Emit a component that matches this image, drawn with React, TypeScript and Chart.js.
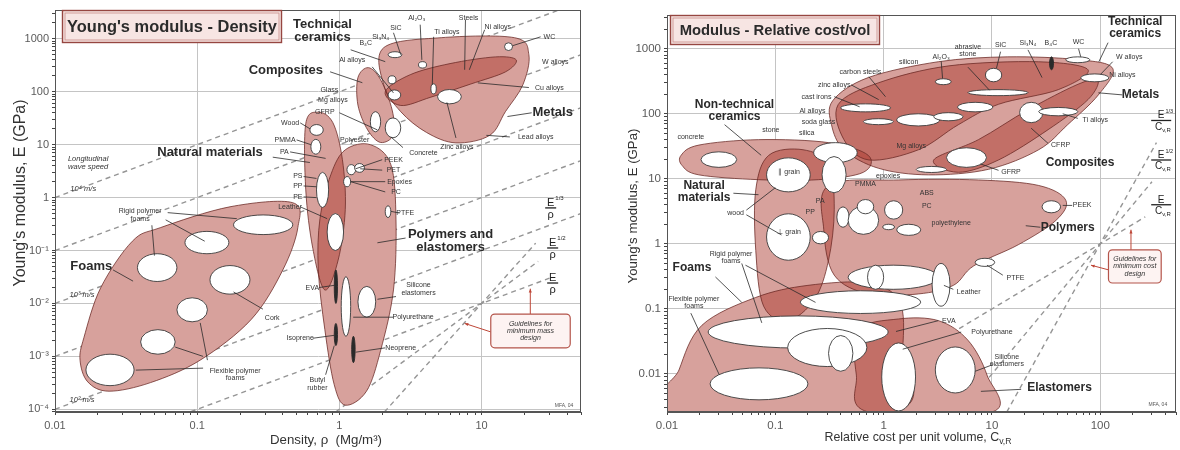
import React, { useEffect, useRef } from "react";
import { Chart, registerables } from "chart.js";

Chart.register(...registerables);

type XY = [number, number];
type Box = [number, number, number, number]; // xmin, xmax, ymin, ymax
type Seg = [number, number, number, number]; // x1, y1, x2, y2
type Lab = [string, number, number];
type Frac = [string, number, number];

const FONT = '"Liberation Sans", Arial, Helvetica, sans-serif';

/* ===================== LEFT CHART: Young's modulus - Density ===================== */
const leftTitle = "Young's modulus - Density";
const leftYTitle = "Young's modulus, E (GPa)";
const leftXTitle = "Density, ρ  (Mg/m³)";
const leftXRange: [number, number] = [0.01, 50];
const leftYRange: [number, number] = [8.9e-5, 3500];
const leftXTickValues = [0.01, 0.1, 1, 10];
const leftXTickLabels = ["0.01", "0.1", "1", "10"];
const leftYTickValues = [1e-4, 1e-3, 1e-2, 1e-1, 1, 10, 100, 1000];
const leftYTickLabels = ["10⁻⁴", "10⁻³", "10⁻²", "10⁻¹", "1", "10", "100", "1000"];

const leftFoams: XY[] = [[0.055, 0.27], [0.17, 0.67], [0.47, 0.8], [0.51, 0.27], [0.4, 0.043], [0.24, 0.005], [0.105, 0.00085], [0.047, 0.00032], [0.024, 0.00022], [0.017, 0.00033], [0.015, 0.00085], [0.016, 0.0023], [0.021, 0.02], [0.035, 0.15]];
const leftNatural: XY[] = [[0.58, 25], [0.71, 41], [0.9, 26], [1.05, 5.2], [1.1, 0.6], [0.98, 0.066], [0.79, 0.018], [0.65, 0.11], [0.58, 1.4]];
const leftPolymers: XY[] = [[1.1, 8], [1.65, 10], [2.3, 4.2], [2.5, 0.38], [2.4, 0.018], [1.95, 0.0013], [1.55, 0.00022], [1.1, 0.00012], [0.92, 0.00029], [0.79, 0.0032], [0.71, 0.045], [0.73, 0.4], [0.87, 2.7]];
const leftMetals: XY[] = [[2.05, 680], [5.2, 1050], [17, 1050], [21.5, 500], [19.5, 135], [14.7, 42], [11.4, 15], [6.6, 10.8], [4.1, 17], [2.7, 42], [2.05, 135]];
const leftTechCeramics: XY[] = [[2.1, 100], [3.15, 210], [6.0, 340], [12.5, 455], [17.5, 400], [14.7, 237], [8.4, 140], [4.4, 79], [2.7, 55]];
const leftComposites: XY[] = [[1.35, 185], [1.6, 285], [1.95, 168], [2.35, 45], [2.4, 15.5], [1.95, 11], [1.58, 19], [1.35, 56]];

const leftBubbles: Box[] = [
  [0.18, 0.47, 0.2, 0.47], [0.082, 0.167, 0.087, 0.23], [0.038, 0.072, 0.026, 0.087],
  [0.123, 0.235, 0.015, 0.052], [0.072, 0.118, 0.0045, 0.0128], [0.04, 0.07, 0.0011, 0.0032],
  [0.0165, 0.036, 0.00028, 0.0011],
  [0.62, 0.77, 15, 24], [0.63, 0.74, 6.6, 12.6], [0.69, 0.84, 0.65, 3.0], [0.82, 1.07, 0.1, 0.5],
  [1.35, 1.8, 0.0055, 0.021], [1.03, 1.2, 0.0024, 0.032], [1.13, 1.3, 2.7, 4.2], [1.28, 1.5, 3.0, 4.4],
  [1.07, 1.2, 1.6, 2.5], [2.1, 2.3, 0.42, 0.7],
  [4.9, 7.2, 59, 110], [14.5, 16.5, 600, 840], [2.2, 2.5, 141, 200], [3.6, 4.1, 280, 370],
  [2.2, 2.75, 440, 570], [4.4, 4.8, 91, 141], [2.2, 2.7, 70, 108], [1.65, 1.95, 17.5, 42], [2.1, 2.7, 13.5, 32],
];
const leftDarkMarks: Box[] = [[0.92, 0.97, 0.01, 0.043], [1.22, 1.29, 0.00076, 0.0024], [0.92, 0.97, 0.0016, 0.0042]];

const leftGuideLines: XY[][] = [
  [[0.01, 1], [35, 3500]],
  [[0.01, 0.1], [50, 500]],
  [[0.01, 0.01], [50, 50]],
  [[0.01, 0.001], [50, 5]],
  [[0.01, 0.0001], [50, 0.5]],
  [[0.09, 0.00009], [30, 0.03]],
  [[0.94, 0.000089], [25, 0.0625]],
  [[2.07, 0.0000887], [24, 0.138]],
];

const leftMainLabels: Lab[] = [
  ["Technical\nceramics", 0.76, 1400], ["Composites", 0.42, 250], ["Metals", 31.6, 40],
  ["Natural materials", 0.123, 7.0], ["Polymers and\nelastomers", 6.05, 0.152], ["Foams", 0.018, 0.05],
];
const leftSpeedLabels: Lab[] = [
  ["Longitudinal\nwave speed", 0.0171, 4.5], ["10⁴ m/s", 0.0158, 1.45], ["10³ m/s", 0.0155, 0.0145], ["10² m/s", 0.0155, 0.00015],
];
const leftSmallLabels: Lab[] = [
  ["Rigid polymer\nfoams", 0.0397, 0.47], ["Cork", 0.337, 0.0053], ["Flexible polymer\nfoams", 0.185, 0.00046],
  ["Wood", 0.45, 25.8], ["PMMA", 0.415, 12.3], ["PA", 0.41, 7.3], ["PS", 0.51, 2.57], ["PP", 0.51, 1.66], ["PE", 0.51, 1.03],
  ["Leather", 0.45, 0.67], ["PEEK", 2.4, 5.2], ["PET", 2.4, 3.3], ["Epoxies", 2.65, 2.0], ["PC", 2.5, 1.28],
  ["Polyester", 1.28, 12.3], ["PTFE", 2.9, 0.51], ["EVA", 0.645, 0.0196], ["Silicone\nelastomers", 3.6, 0.0188],
  ["Polyurethane", 3.3, 0.0056], ["Isoprene", 0.53, 0.0022], ["Neoprene", 2.7, 0.00144], ["Butyl\nrubber", 0.7, 0.0003],
  ["B₄C", 1.53, 840], ["Si₃N₄", 1.95, 1090], ["SiC", 2.5, 1610], ["Al₂O₃", 3.5, 2500], ["Ti alloys", 5.7, 1360],
  ["Steels", 8.1, 2500], ["Ni alloys", 13, 1690], ["WC", 30, 1090], ["W alloys", 33, 370], ["Cu alloys", 30, 118],
  ["Al alloys", 1.23, 400], ["Glass", 0.85, 108], ["Mg alloys", 0.9, 70], ["GFRP", 0.79, 42],
  ["Lead alloys", 24, 14], ["Zinc alloys", 6.7, 9], ["Concrete", 3.9, 7],
];
const leftLeaders: Seg[] = [
  [1.2, 620, 2.1, 370], [0.86, 238, 1.45, 148], [22.5, 40, 15.2, 34], [0.34, 5.8, 0.62, 4.6],
  [2.92, 0.172, 1.85, 0.14], [0.0256, 0.043, 0.0354, 0.0264],
  [0.048, 0.3, 0.05, 0.08], [0.06, 0.38, 0.113, 0.15], [0.062, 0.52, 0.19, 0.4],
  [0.29, 0.0078, 0.18, 0.0165],
  [0.11, 0.0006, 0.037, 0.00055], [0.118, 0.00085, 0.105, 0.0043], [0.11, 0.001, 0.07, 0.0015],
  [26, 1090, 16.5, 740], [21.5, 120, 9.4, 147], [6.6, 13.4, 5.7, 63], [4.6, 1090, 4.5, 135],
  [7.7, 2300, 7.6, 260], [10.5, 1480, 8.2, 260], [3.7, 1850, 3.8, 400], [2.4, 1300, 2.7, 500],
  [1.7, 295, 2.4, 95], [1.0, 40, 1.85, 19], [2.8, 8.8, 2.3, 14], [15.8, 14, 10.8, 15],
  [2.5, 0.0135, 1.85, 0.012], [2.4, 0.0055, 1.25, 0.0055], [2.1, 0.00145, 1.3, 0.0012],
  [0.8, 0.00045, 0.92, 0.0016], [0.72, 0.02, 0.92, 0.022], [0.65, 0.0022, 0.92, 0.0025],
  [2.0, 5.2, 1.3, 3.5], [2.0, 3.3, 1.4, 3.5], [2.1, 2.0, 1.2, 2.0], [2.1, 1.28, 1.2, 2.0],
  [0.56, 2.5, 0.69, 2.3], [0.56, 1.66, 0.69, 1.6], [0.56, 1.03, 0.69, 1.0],
  [0.53, 25.8, 0.62, 20], [0.5, 12.3, 0.63, 10], [0.45, 7.3, 0.8, 5.5], [2.65, 0.51, 2.3, 0.55], [0.53, 0.67, 0.82, 0.4],
];
const leftFractions: Frac[] = [["1/3", 30.6, 0.64], ["1/2", 31.6, 0.112], ["", 31.6, 0.0244]];
const leftGuideBox: Box = [11.6, 42, 0.00145, 0.0063];
const leftGuideText = "Guidelines for\nminimum mass\ndesign";
const leftGuideArrows: Seg[] = [[11.6, 0.0029, 7.6, 0.0042], [22, 0.0063, 22, 0.019]];
const leftTag: Lab = ["MFA, 04", 38, 0.00012];

/* ===================== RIGHT CHART: Modulus - Relative cost/vol ===================== */
const rightTitle = "Modulus - Relative cost/vol";
const rightYTitle = "Young's modulus, E (GPa)";
const rightXTitle = "Relative cost per unit volume, C";
const rightXTitleSub = "v,R";
const rightXRange: [number, number] = [0.01, 500];
const rightYRange: [number, number] = [0.0026, 3300];
const rightXTickValues = [0.01, 0.1, 1, 10, 100];
const rightXTickLabels = ["0.01", "0.1", "1", "10", "100"];
const rightYTickValues = [0.01, 0.1, 1, 10, 100, 1000];
const rightYTickLabels = ["0.01", "0.1", "1", "10", "100", "1000"];

const rightMetalsOuter: XY[] = [[0.34, 160], [0.72, 360], [3.2, 631], [14, 750], [62, 680], [130, 500], [96, 195], [50, 68], [27, 28], [9.3, 14], [2.6, 11.5], [0.9, 14.5], [0.43, 28], [0.33, 68]];
const rightMetals: XY[] = [[0.38, 138], [0.9, 300], [4, 545], [27, 630], [77, 475], [41, 235], [11.5, 140], [4.9, 68], [2.1, 28], [0.73, 19.5], [0.43, 40]];
const rightComposites: XY[] = [[2.9, 19.5], [7.5, 40], [21.5, 115], [61, 280], [95, 330], [77, 165], [33, 57], [11.5, 19.5], [4.9, 12.6]];
const rightNonTech: XY[] = [[0.0135, 23], [0.0197, 33], [0.07, 40], [0.31, 36], [0.72, 23], [0.65, 12.6], [0.25, 9.7], [0.07, 9.7], [0.0197, 11.5], [0.0138, 16]];
const rightNatural: XY[] = [[0.087, 23], [0.18, 28], [0.31, 16.5], [0.35, 3.4], [0.31, 0.56], [0.23, 0.14], [0.13, 0.066], [0.078, 0.11], [0.066, 0.79], [0.066, 6.8]];
const rightPolymers: XY[] = [[0.31, 7.9], [1.37, 9.6], [7.5, 9.6], [27, 7.9], [48, 4.7], [39, 2.3], [17.5, 0.97], [6.8, 0.46], [4.4, 0.23], [2.1, 0.17], [0.73, 0.17], [0.35, 0.33], [0.28, 1.65]];
const rightFoams: XY[] = [[0.0102, 0.0026], [0.0129, 0.0115], [0.021, 0.056], [0.066, 0.15], [0.2, 0.23], [0.72, 0.25], [1.4, 0.13], [1.5, 0.024], [1.25, 0.0026]];
const rightElastomers: XY[] = [[0.58, 0.047], [1.37, 0.07], [3.2, 0.066], [6.0, 0.033], [9, 0.0096], [10, 0.0026], [0.72, 0.0026], [0.56, 0.0096]];

const rightBubbles: Box[] = [
  [48, 80, 610, 750], [66, 120, 310, 410], [8.7, 12.3, 310, 500], [3.0, 4.2, 280, 345],
  [6.0, 21.5, 190, 235], [4.8, 10.2, 107, 150], [18, 29.5, 73, 150], [27, 62, 93, 125],
  [1.32, 3.3, 65, 100], [2.9, 5.4, 78, 104], [3.8, 8.9, 15, 30], [2.0, 3.8, 12.5, 15.5],
  [0.4, 1.16, 107, 142], [0.65, 1.23, 68, 84],
  [0.0206, 0.044, 15, 26], [0.226, 0.57, 17.7, 36], [0.27, 0.45, 6.1, 22],
  [0.083, 0.21, 6.3, 21], [0.083, 0.21, 0.56, 2.9], [0.22, 0.31, 1.0, 1.55],
  [0.37, 0.48, 1.8, 3.7], [0.47, 0.9, 1.4, 3.8], [0.57, 0.81, 2.9, 4.8], [1.02, 1.5, 2.4, 4.6],
  [1.32, 2.2, 1.35, 2.0], [0.98, 1.26, 1.65, 2.0], [29, 43, 3, 4.6], [7.0, 10.6, 0.45, 0.6],
  [0.17, 2.2, 0.085, 0.19], [0.024, 1.1, 0.025, 0.078], [0.13, 0.7, 0.013, 0.05], [0.31, 0.52, 0.011, 0.039],
  [0.96, 1.97, 0.0027, 0.03], [3.0, 7.0, 0.0051, 0.026], [0.025, 0.2, 0.004, 0.0124],
  [0.47, 3.2, 0.2, 0.47], [0.71, 1.0, 0.2, 0.47], [2.8, 4.1, 0.11, 0.5],
];
const rightDarkMarks: Box[] = [[34, 37, 475, 750]];

const rightGuideLines: XY[][] = [
  [[0.26, 0.0026], [260, 2.6]],
  [[5.1, 0.0026], [300, 9]],
  [[13.7, 0.0026], [330, 36]],
];

const rightMainLabels: Lab[] = [
  ["Technical\nceramics", 210, 2100], ["Metals", 235, 195], ["Composites", 65, 17.7],
  ["Non-technical\nceramics", 0.042, 111], ["Natural\nmaterials", 0.022, 6.3], ["Polymers", 50, 1.8],
  ["Foams", 0.017, 0.43], ["Elastomers", 42, 0.0062],
];
const rightSmallLabels: Lab[] = [
  ["carbon steels", 0.61, 445], ["zinc alloys", 0.35, 279], ["cast irons", 0.24, 183], ["Al alloys", 0.22, 111],
  ["soda glass", 0.25, 75], ["silica", 0.195, 51], ["stone", 0.091, 57], ["concrete", 0.0166, 44],
  ["∥ grain", 0.134, 12.6], ["⊥ grain", 0.134, 1.5], ["wood", 0.043, 3.0],
  ["Rigid polymer\nfoams", 0.039, 0.62], ["Flexible polymer\nfoams", 0.0177, 0.125],
  ["PMMA", 0.68, 8.4], ["epoxies", 1.1, 11], ["PA", 0.26, 4.5], ["PP", 0.21, 3.1], ["ABS", 2.5, 6.1], ["PC", 2.5, 3.8],
  ["polyethylene", 4.2, 2.1], ["PEEK", 68, 3.9], ["PTFE", 16.5, 0.3], ["Leather", 6.1, 0.18], ["EVA", 4.0, 0.066],
  ["Polyurethane", 10, 0.044], ["Silicone\nelastomers", 13.7, 0.016],
  ["silicon", 1.7, 631], ["Al₂O₃", 3.4, 750], ["abrasive\nstone", 6.0, 930], ["SiC", 12, 1150], ["Si₃N₄", 21.5, 1230],
  ["B₄C", 35, 1230], ["WC", 63, 1280], ["W alloys", 185, 750], ["Ni alloys", 160, 400], ["Ti alloys", 90, 79],
  ["CFRP", 43, 33], ["GFRP", 15, 12.8], ["Mg alloys", 1.8, 32],
];
const rightLeaders: Seg[] = [
  [118, 1240, 97, 630], [160, 195, 96, 210], [0.034, 68, 0.074, 23], [0.041, 6.0, 0.07, 5.7],
  [0.054, 3.3, 0.1, 7.3], [0.054, 2.8, 0.114, 1.37], [28, 1.8, 20.5, 1.9], [0.028, 0.31, 0.049, 0.126],
  [18.6, 0.0058, 7.9, 0.0054], [0.049, 0.5, 0.075, 0.061], [0.053, 0.47, 0.235, 0.126], [0.0166, 0.086, 0.0303, 0.0098],
  [0.73, 371, 1.04, 183], [0.5, 279, 0.9, 165], [0.35, 183, 0.6, 128],
  [3.4, 640, 3.5, 350], [6, 520, 9.5, 230], [12, 900, 11, 500], [21.5, 960, 29, 360], [63, 1000, 66, 750],
  [130, 630, 100, 400], [62, 85, 45, 100], [33, 35, 23, 60], [11.5, 13.5, 7.8, 17], [55, 3.9, 45, 3.9],
  [12.6, 0.33, 9, 0.47], [4.4, 0.2, 3.6, 0.23], [3.2, 0.066, 1.3, 0.045], [5.2, 0.044, 1.5, 0.024], [10.3, 0.014, 7, 0.011],
];
const rightFractions: Frac[] = [["1/3", 365, 79], ["1/2", 365, 19.5], ["", 365, 4]];
const rightGuideBox: Box = [119, 365, 0.25, 0.81];
const rightGuideText = "Guidelines for\nminimum cost\ndesign";
const rightGuideArrows: Seg[] = [[118, 0.4, 82, 0.47], [192, 0.8, 192, 1.65]];
const rightTag: Lab = ["MFA, 04", 340, 0.0034];

/* ===================== drawing helpers ===================== */
function isDecade(v: number) {
  const l = Math.log10(v);
  return Math.abs(l - Math.round(l)) < 1e-6;
}
function minorTicks(min: number, max: number) {
  const out: { value: number }[] = [];
  for (let e = Math.floor(Math.log10(min)); e <= Math.ceil(Math.log10(max)); e++) {
    for (let m = 1; m < 10; m++) {
      const v = m * Math.pow(10, e);
      if (v >= min * 0.9999 && v <= max * 1.0001) out.push({ value: v });
    }
  }
  return out;
}
function labelFor(vals: number[], labels: string[], v: number) {
  const i = vals.findIndex((t) => Math.abs(Math.log10(t) - Math.log10(v)) < 1e-6);
  return i >= 0 ? labels[i] : "";
}
function smoothClosed(ctx: CanvasRenderingContext2D, p: { x: number; y: number }[]) {
  const n = p.length;
  ctx.moveTo(p[0].x, p[0].y);
  for (let i = 0; i < n; i++) {
    const p0 = p[(i - 1 + n) % n], p1 = p[i], p2 = p[(i + 1) % n], p3 = p[(i + 2) % n];
    ctx.bezierCurveTo(
      p1.x + (p2.x - p0.x) / 6, p1.y + (p2.y - p0.y) / 6,
      p2.x - (p3.x - p1.x) / 6, p2.y - (p3.y - p1.y) / 6,
      p2.x, p2.y
    );
  }
  ctx.closePath();
}
function drawText(ctx: CanvasRenderingContext2D, text: string, x: number, y: number, size: number, bold = false, italic = false, color = "#2a2a2a") {
  ctx.font = `${italic ? "italic " : ""}${bold ? "bold " : ""}${size}px ${FONT}`;
  ctx.fillStyle = color;
  ctx.textAlign = "center";
  ctx.textBaseline = "middle";
  const lines = text.split("\n");
  const lh = size * 1.05;
  lines.forEach((ln, i) => ctx.fillText(ln, x, y + (i - (lines.length - 1) / 2) * lh));
}
function fitSize(ctx: CanvasRenderingContext2D, text: string, width: number, weight: string) {
  ctx.font = `${weight} 100px ${FONT}`;
  return (100 * width) / ctx.measureText(text).width;
}

type Lay = {
  padL: number; padR: number; padT: number; yAxisW: number; xAxisH: number; tickSize: number;
  titleBox: [number, number, number, number]; titleW: number;
  yTitle: [number, number, number]; xTitle: [number, number, number];
  mainSize: number; smallSize: number; fracSize: number; fracBar: number;
};

function ashbyPlugin(spec: any, lay: Lay) {
  return {
    id: "ashby",
    afterDatasetsDraw(chart: any) {
      const ctx: CanvasRenderingContext2D = chart.ctx;
      const xs = chart.scales.x, ys = chart.scales.y, a = chart.chartArea;
      const P = (x: number, y: number) => ({ x: xs.getPixelForValue(x), y: ys.getPixelForValue(y) });
      ctx.save();
      ctx.beginPath();
      ctx.rect(a.left, a.top, a.right - a.left, a.bottom - a.top);
      ctx.clip();

      // envelopes: white under-fill, then translucent fills so overlaps darken
      const envPts = spec.envelopes.map((env: XY[]) => env.map(([x, y]) => P(x, y)));
      for (const pts of envPts) {
        ctx.beginPath(); smoothClosed(ctx, pts);
        ctx.fillStyle = "#ffffff"; ctx.fill();
      }
      for (const pts of envPts) {
        ctx.beginPath(); smoothClosed(ctx, pts);
        ctx.fillStyle = "rgba(170,55,45,0.47)"; ctx.fill();
      }
      for (const pts of envPts) {
        ctx.beginPath(); smoothClosed(ctx, pts);
        ctx.strokeStyle = "rgba(105,40,35,0.85)"; ctx.lineWidth = 0.9; ctx.stroke();
      }

      const ell = (b: Box, fill: string, stroke: string) => {
        const p1 = P(b[0], b[2]), p2 = P(b[1], b[3]);
        const cx = (p1.x + p2.x) / 2, cy = (p1.y + p2.y) / 2;
        const rx = Math.abs(p2.x - p1.x) / 2, ry = Math.abs(p2.y - p1.y) / 2;
        ctx.beginPath(); ctx.ellipse(cx, cy, Math.max(rx, 0.5), Math.max(ry, 0.5), 0, 0, Math.PI * 2);
        ctx.fillStyle = fill; ctx.fill();
        ctx.strokeStyle = stroke; ctx.lineWidth = 0.9; ctx.stroke();
      };
      for (const b of spec.bubbles) ell(b, "#ffffff", "#3a3a3a");
      for (const b of spec.darks) ell(b, "#2a2a2a", "#2a2a2a");

      // leader lines
      ctx.strokeStyle = "#2a2a2a"; ctx.lineWidth = 0.8;
      for (const s of spec.leaders) {
        const q1 = P(s[0], s[1]), q2 = P(s[2], s[3]);
        ctx.beginPath(); ctx.moveTo(q1.x, q1.y); ctx.lineTo(q2.x, q2.y); ctx.stroke();
      }
      // guide arrows
      ctx.strokeStyle = "rgb(190,70,55)"; ctx.fillStyle = "rgb(190,70,55)"; ctx.lineWidth = 1;
      for (const s of spec.arrows) {
        const q1 = P(s[0], s[1]), q2 = P(s[2], s[3]);
        ctx.beginPath(); ctx.moveTo(q1.x, q1.y); ctx.lineTo(q2.x, q2.y); ctx.stroke();
        const ang = Math.atan2(q2.y - q1.y, q2.x - q1.x);
        ctx.beginPath();
        ctx.moveTo(q2.x, q2.y);
        ctx.lineTo(q2.x - 4 * Math.cos(ang - 0.4), q2.y - 4 * Math.sin(ang - 0.4));
        ctx.lineTo(q2.x - 4 * Math.cos(ang + 0.4), q2.y - 4 * Math.sin(ang + 0.4));
        ctx.closePath(); ctx.fill();
      }
      // guide box
      {
        const g: Box = spec.guideBox;
        const b1 = P(g[0], g[3]), b2 = P(g[1], g[2]);
        ctx.beginPath();
        (ctx as any).roundRect(b1.x, b1.y, b2.x - b1.x, b2.y - b1.y, 4);
        ctx.fillStyle = "#fdf3f2"; ctx.fill();
        ctx.strokeStyle = "rgb(180,85,75)"; ctx.lineWidth = 1.2; ctx.stroke();
        drawText(ctx, spec.guideText, (b1.x + b2.x) / 2, (b1.y + b2.y) / 2, 7, false, true, "#333");
      }
      // labels
      for (const [t, x, y] of spec.mainLabels) { const q = P(x, y); drawText(ctx, t, q.x, q.y, lay.mainSize, true); }
      for (const [t, x, y] of spec.smallLabels) { const q = P(x, y); drawText(ctx, t, q.x, q.y, lay.smallSize, false, false, "#333"); }
      for (const [t, x, y] of spec.notes) { const q = P(x, y); drawText(ctx, t, q.x, q.y, 7.5, false, true, "#333"); }
      { const [t, x, y] = spec.tag; const q = P(x, y); drawText(ctx, t, q.x, q.y, 5, false, false, "#555"); }

      // guideline fractions
      for (const [sup, x, y] of spec.fracs) {
        const q = P(x, y), s = lay.fracSize;
        ctx.fillStyle = "#222"; ctx.textAlign = "center"; ctx.textBaseline = "alphabetic";
        ctx.font = `${s}px ${FONT}`;
        ctx.fillText("E", q.x, q.y - 2);
        if (sup) { ctx.font = `${s * 0.55}px ${FONT}`; ctx.textAlign = "left"; ctx.fillText(sup, q.x + s * 0.42, q.y - s * 0.72); }
        ctx.fillRect(q.x - lay.fracBar / 2, q.y - 0.6, lay.fracBar, 1.3);
        ctx.font = `${s}px ${FONT}`; ctx.textAlign = spec.fracDenSub ? "right" : "center";
        const dx = spec.fracDenSub ? 1 : 0;
        ctx.fillText(spec.fracDen, q.x + dx, q.y + s * 0.95);
        if (spec.fracDenSub) { ctx.font = `${s * 0.6}px ${FONT}`; ctx.textAlign = "left"; ctx.fillText(spec.fracDenSub, q.x + dx, q.y + s * 1.15); }
      }
      ctx.restore();

      // plot frame
      ctx.save();
      ctx.strokeStyle = "#555"; ctx.lineWidth = 1;
      ctx.strokeRect(a.left + 0.5, a.top + 0.5, a.right - a.left - 1, a.bottom - a.top - 1);
      // title box
      const [dx, dy, w, h] = lay.titleBox;
      const tx = a.left + dx, ty = a.top + dy;
      ctx.fillStyle = "#f7e5e3"; ctx.fillRect(tx, ty, w, h);
      ctx.strokeStyle = "rgb(150,70,65)"; ctx.lineWidth = 1.4; ctx.strokeRect(tx + 0.5, ty + 0.5, w - 1, h - 1);
      ctx.strokeStyle = "rgb(200,140,135)"; ctx.lineWidth = 0.8; ctx.strokeRect(tx + 3, ty + 3, w - 6, h - 6);
      const ts = fitSize(ctx, spec.title, lay.titleW, "bold");
      drawText(ctx, spec.title, tx + w / 2, ty + h / 2 + 0.5, ts, true, false, "#2b2b2b");
      // axis titles
      const [ycx, ycy, ylen] = lay.yTitle;
      const ysz = fitSize(ctx, spec.yTitle, ylen, "normal");
      ctx.translate(ycx, ycy); ctx.rotate(-Math.PI / 2);
      drawText(ctx, spec.yTitle, 0, 0, ysz, false, false, "#333");
      ctx.setTransform(chart.currentDevicePixelRatio || 1, 0, 0, chart.currentDevicePixelRatio || 1, 0, 0);
      const [xcx, xcy, xlen] = lay.xTitle;
      const xsz = fitSize(ctx, spec.xTitle + (spec.xTitleSub ? "vR" : ""), xlen, "normal");
      ctx.font = `${xsz}px ${FONT}`;
      const w1 = ctx.measureText(spec.xTitle).width;
      ctx.font = `${xsz * 0.7}px ${FONT}`;
      const w2 = spec.xTitleSub ? ctx.measureText(spec.xTitleSub).width : 0;
      const sx = xcx - (w1 + w2) / 2;
      ctx.fillStyle = "#333"; ctx.textBaseline = "middle"; ctx.textAlign = "left";
      ctx.font = `${xsz}px ${FONT}`; ctx.fillText(spec.xTitle, sx, xcy);
      if (spec.xTitleSub) { ctx.font = `${xsz * 0.7}px ${FONT}`; ctx.fillText(spec.xTitleSub, sx + w1, xcy + xsz * 0.3); }
      ctx.restore();
    },
  };
}

function axis(range: [number, number], vals: number[], labels: string[], lay: Lay, horiz: boolean) {
  return {
    type: "logarithmic",
    min: range[0],
    max: range[1],
    afterBuildTicks: (s: any) => { s.ticks = minorTicks(range[0], range[1]); },
    afterFit: (s: any) => { if (horiz) s.height = lay.xAxisH; else s.width = lay.yAxisW; },
    ticks: {
      autoSkip: false, maxRotation: 0, minRotation: 0, padding: horiz ? 4 : 3,
      color: "#5a5a5a", font: { family: FONT, size: lay.tickSize },
      callback: (v: any) => labelFor(vals, labels, Number(v)),
    },
    grid: {
      color: (c: any) => (c.tick && isDecade(c.tick.value) ? "#c4c4c4" : "rgba(0,0,0,0)"),
      tickColor: "#444", tickLength: 3, drawTicks: true, lineWidth: 1,
    },
    border: { display: true, color: "#555", width: 1 },
  };
}

function makeConfig(spec: any, lay: Lay): any {
  return {
    type: "scatter",
    data: {
      datasets: spec.lines.map((l: XY[]) => ({
        data: l.map(([x, y]) => ({ x, y })),
        showLine: true, borderColor: "#959595", borderWidth: 1.4, borderDash: [5, 4],
        pointRadius: 0, fill: false,
      })),
    },
    options: {
      animation: false, responsive: true, maintainAspectRatio: false, events: [],
      layout: { padding: { left: lay.padL, right: lay.padR, top: lay.padT, bottom: 0 } },
      plugins: { legend: { display: false }, tooltip: { enabled: false } },
      scales: {
        x: axis(spec.xRange, spec.xTickValues, spec.xTickLabels, lay, true),
        y: axis(spec.yRange, spec.yTickValues, spec.yTickLabels, lay, false),
      },
    },
    plugins: [ashbyPlugin(spec, lay)],
  };
}

const leftSpec = {
  xRange: leftXRange, yRange: leftYRange,
  xTickValues: leftXTickValues, xTickLabels: leftXTickLabels, yTickValues: leftYTickValues, yTickLabels: leftYTickLabels,
  envelopes: [leftNatural, leftPolymers, leftFoams, leftMetals, leftTechCeramics, leftComposites],
  bubbles: leftBubbles, darks: leftDarkMarks, lines: leftGuideLines,
  mainLabels: leftMainLabels, smallLabels: leftSmallLabels, notes: leftSpeedLabels,
  leaders: leftLeaders, arrows: leftGuideArrows, fracs: leftFractions, fracDen: "ρ", fracDenSub: "",
  guideBox: leftGuideBox, guideText: leftGuideText, tag: leftTag,
  title: leftTitle, yTitle: leftYTitle, xTitle: leftXTitle, xTitleSub: "",
};
const leftLay: Lay = {
  padL: 0, padR: 9, padT: 10, yAxisW: 55, xAxisH: 38, tickSize: 11,
  titleBox: [7, 0, 220, 33], titleW: 210,
  yTitle: [21, 193, 187], xTitle: [326, 440, 112],
  mainSize: 13, smallSize: 7, fracSize: 11, fracBar: 11,
};
const rightSpec = {
  xRange: rightXRange, yRange: rightYRange,
  xTickValues: rightXTickValues, xTickLabels: rightXTickLabels, yTickValues: rightYTickValues, yTickLabels: rightYTickLabels,
  envelopes: [rightMetalsOuter, rightMetals, rightComposites, rightNonTech, rightNatural, rightPolymers, rightFoams, rightElastomers],
  bubbles: rightBubbles, darks: rightDarkMarks, lines: rightGuideLines,
  mainLabels: rightMainLabels, smallLabels: rightSmallLabels, notes: [],
  leaders: rightLeaders, arrows: rightGuideArrows, fracs: rightFractions, fracDen: "C", fracDenSub: "v,R",
  guideBox: rightGuideBox, guideText: rightGuideText, tag: rightTag,
  title: rightTitle, yTitle: rightYTitle, xTitle: rightXTitle, xTitleSub: rightXTitleSub,
};
const rightLay: Lay = {
  padL: 0, padR: 2, padT: 15, yAxisW: 77, xAxisH: 38, tickSize: 11.5,
  titleBox: [3, 0, 210, 30], titleW: 191,
  yTitle: [43, 206, 155], xTitle: [328, 438, 190],
  mainSize: 12, smallSize: 7, fracSize: 10, fracBar: 20,
};

export default function App() {
  const leftRef = useRef<HTMLCanvasElement>(null);
  const rightRef = useRef<HTMLCanvasElement>(null);
  useEffect(() => {
    const c1 = new Chart(leftRef.current as HTMLCanvasElement, makeConfig(leftSpec, leftLay));
    const c2 = new Chart(rightRef.current as HTMLCanvasElement, makeConfig(rightSpec, rightLay));
    return () => { c1.destroy(); c2.destroy(); };
  }, []);
  return (
    <div style={{ position: "fixed", left: 0, top: 0, width: 1180, height: 450, background: "#ffffff" }}>
      <div style={{ position: "absolute", left: 0, top: 0, width: 590, height: 450 }}>
        <canvas ref={leftRef} />
      </div>
      <div style={{ position: "absolute", left: 590, top: 0, width: 590, height: 450 }}>
        <canvas ref={rightRef} />
      </div>
    </div>
  );
}
